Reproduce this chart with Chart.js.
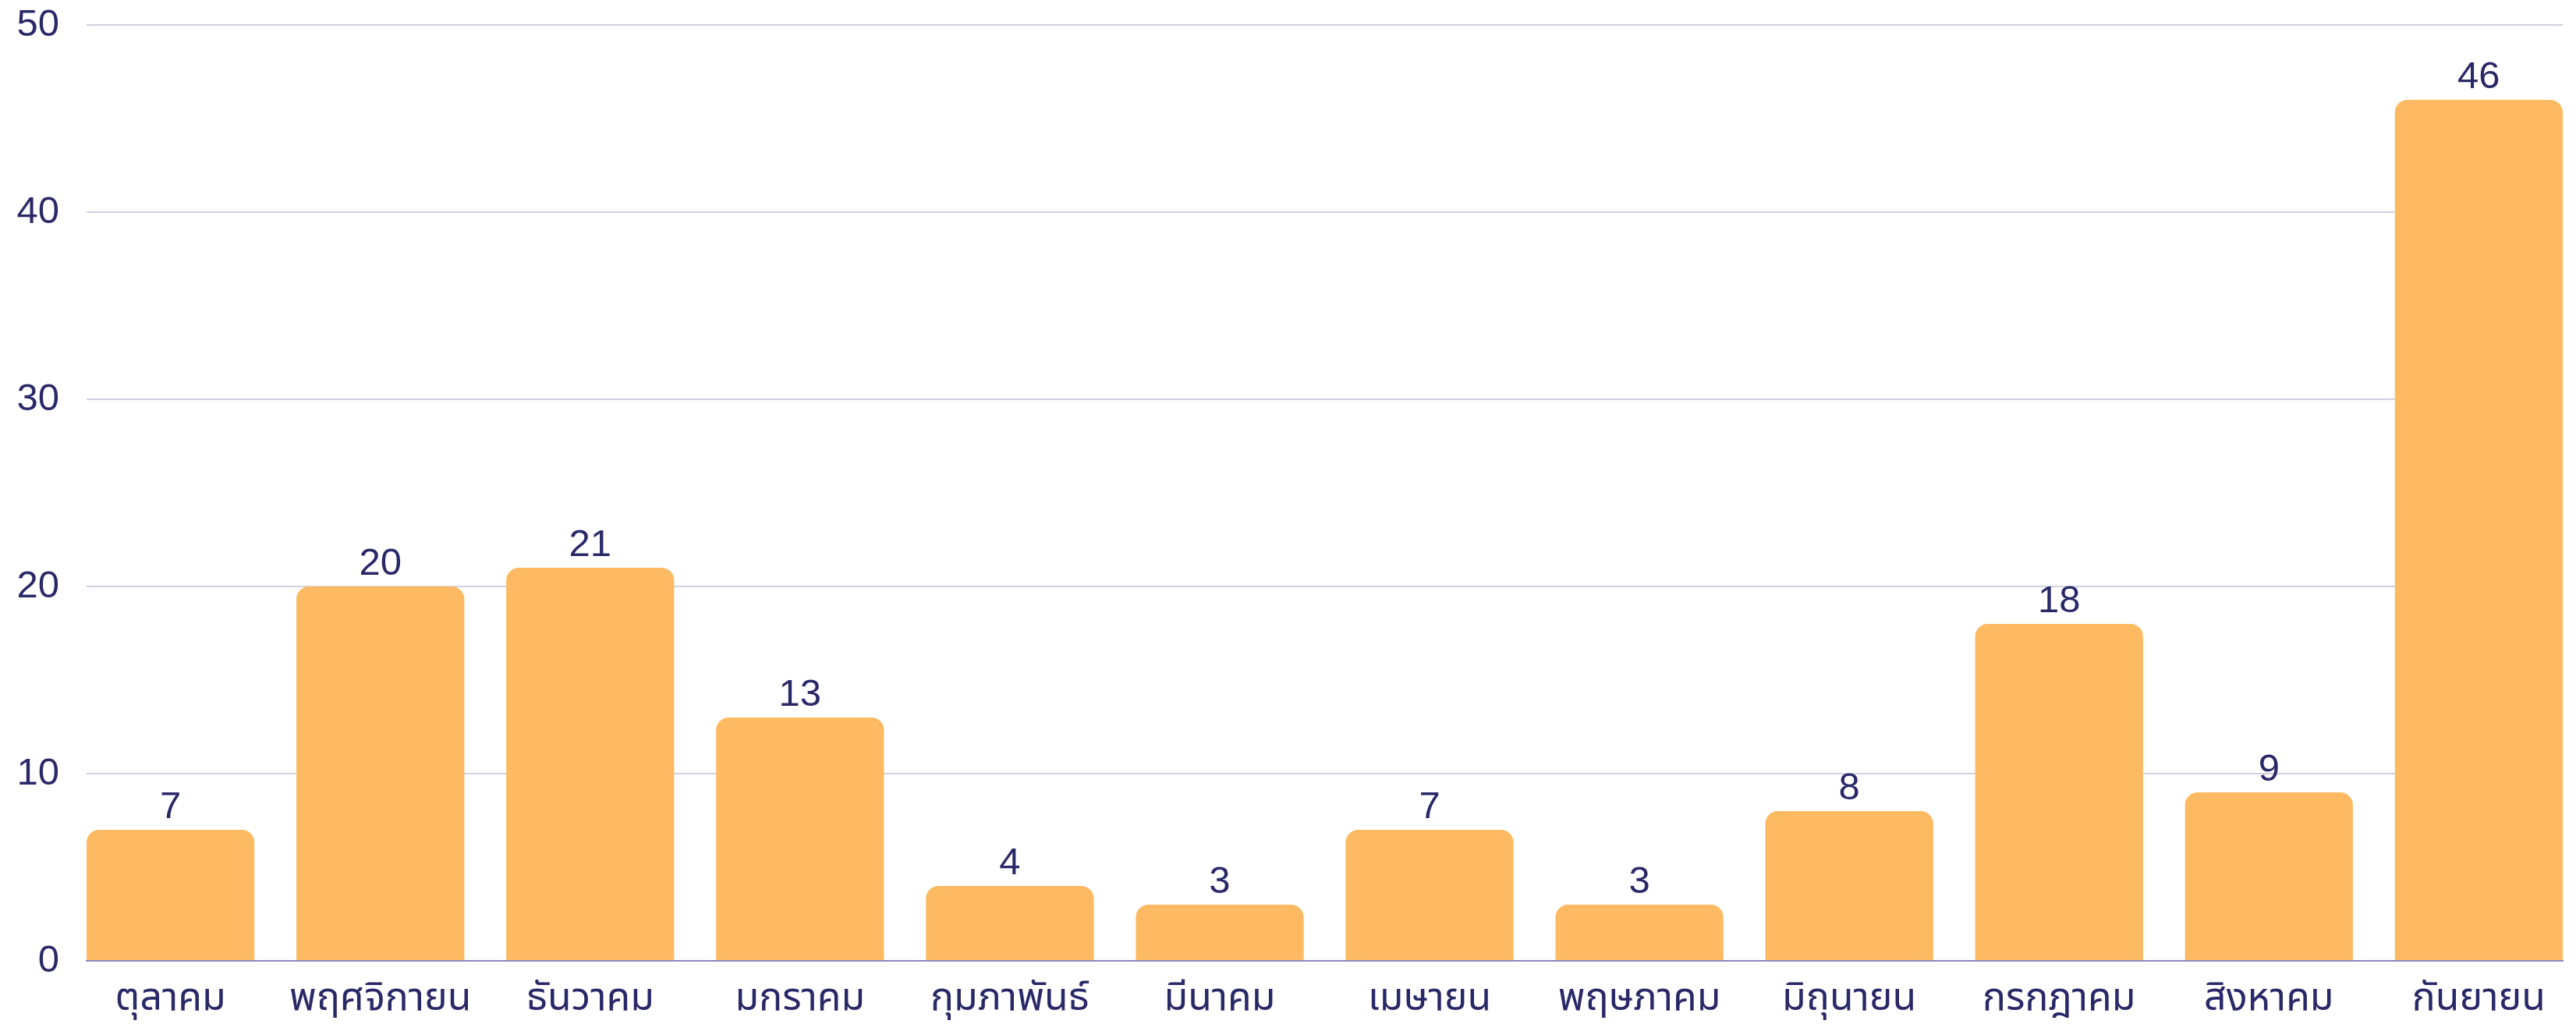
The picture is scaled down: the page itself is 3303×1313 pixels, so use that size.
<!DOCTYPE html>
<html>
<head>
<meta charset="utf-8">
<script src="https://cdn.jsdelivr.net/npm/chart.js@4.4.1/dist/chart.umd.min.js"></script>
<style>
  html, body { margin: 0; padding: 0; background: #fff; }
  #wrap { width: 3303px; height: 1313px; position: relative; }
</style>
</head>
<body>
<div id="wrap"><canvas id="monthly-chart"></canvas></div>
<script>
// monthly totals, fiscal year Oct - Sep
const months = ['ตุลาคม', 'พฤศจิกายน', 'ธันวาคม', 'มกราคม', 'กุมภาพันธ์', 'มีนาคม',
  'เมษายน', 'พฤษภาคม', 'มิถุนายน', 'กรกฎาคม', 'สิงหาคม', 'กันยายน']
const counts = [7, 20, 21, 13, 4, 3, 7, 3, 8, 18, 9, 46]
const yTicks = [0, 10, 20, 30, 40, 50]

const textColor = '#2a2968'
const barColor = '#fdba62'

// number above each bar
const valueLabels = {
  id: 'valueLabels',
  afterDatasetsDraw(chart) {
    const ctx = chart.ctx
    const meta = chart.getDatasetMeta(0)
    ctx.save()
    ctx.font = '49px "Liberation Sans", Arial, sans-serif'
    ctx.fillStyle = textColor
    ctx.textAlign = 'center'
    ctx.textBaseline = 'alphabetic'
    meta.data.forEach((bar, i) => {
      ctx.fillText(counts[i], bar.x, bar.y - 15)
    })
    ctx.restore()
  },
}

const ctx = document.getElementById('monthly-chart').getContext('2d')

new Chart(ctx, {
  type: 'bar',
  data: {
    datasets: [
      {
        data: counts.map((v, i) => ({ x: i, y: v })),
        backgroundColor: barColor,
        borderWidth: 0,
        borderRadius: { topLeft: 16, topRight: 16, bottomLeft: 0, bottomRight: 0 },
        borderSkipped: false,
        categoryPercentage: 1,
        barPercentage: 0.8,
      },
    ],
  },
  options: {
    responsive: true,
    maintainAspectRatio: false,
    animation: false,
    layout: { padding: { left: 0, right: 17, top: 32, bottom: 0 } },
    scales: {
      x: {
        type: 'linear',
        offset: false,
        min: -0.4,
        max: 11.4,
        afterBuildTicks: (axis) => {
          axis.ticks = months.map((m, i) => ({ value: i }))
        },
        afterFit: (axis) => {
          axis.height = 81
          axis.paddingLeft = 0
          axis.paddingRight = 0
        },
        grid: { display: true, drawOnChartArea: false, drawTicks: false },
        border: { display: true, color: '#8c89c0', width: 2 },
        ticks: {
          autoSkip: false,
          maxRotation: 0,
          padding: 23,
          color: textColor,
          font: {
            family: "'Noto Sans Thai', 'Noto Sans Thai UI', 'Noto Sans', 'Liberation Sans', sans-serif",
            size: 50,
          },
          callback: (value) => months[value],
        },
      },
      y: {
        min: 0,
        max: 50,
        afterBuildTicks: (axis) => {
          axis.ticks = yTicks.map((v) => ({ value: v }))
        },
        afterFit: (axis) => {
          axis.width = 111
          axis.paddingTop = 0
          axis.paddingBottom = 0
        },
        grid: { color: '#d2d0e2', lineWidth: 2, drawTicks: false },
        border: { display: false },
        ticks: {
          padding: 35,
          color: textColor,
          font: { family: "'Liberation Sans', Arial, sans-serif", size: 49 },
        },
      },
    },
    plugins: {
      legend: { display: false },
      tooltip: { enabled: false },
    },
  },
  plugins: [valueLabels],
})
</script>
</body>
</html>
